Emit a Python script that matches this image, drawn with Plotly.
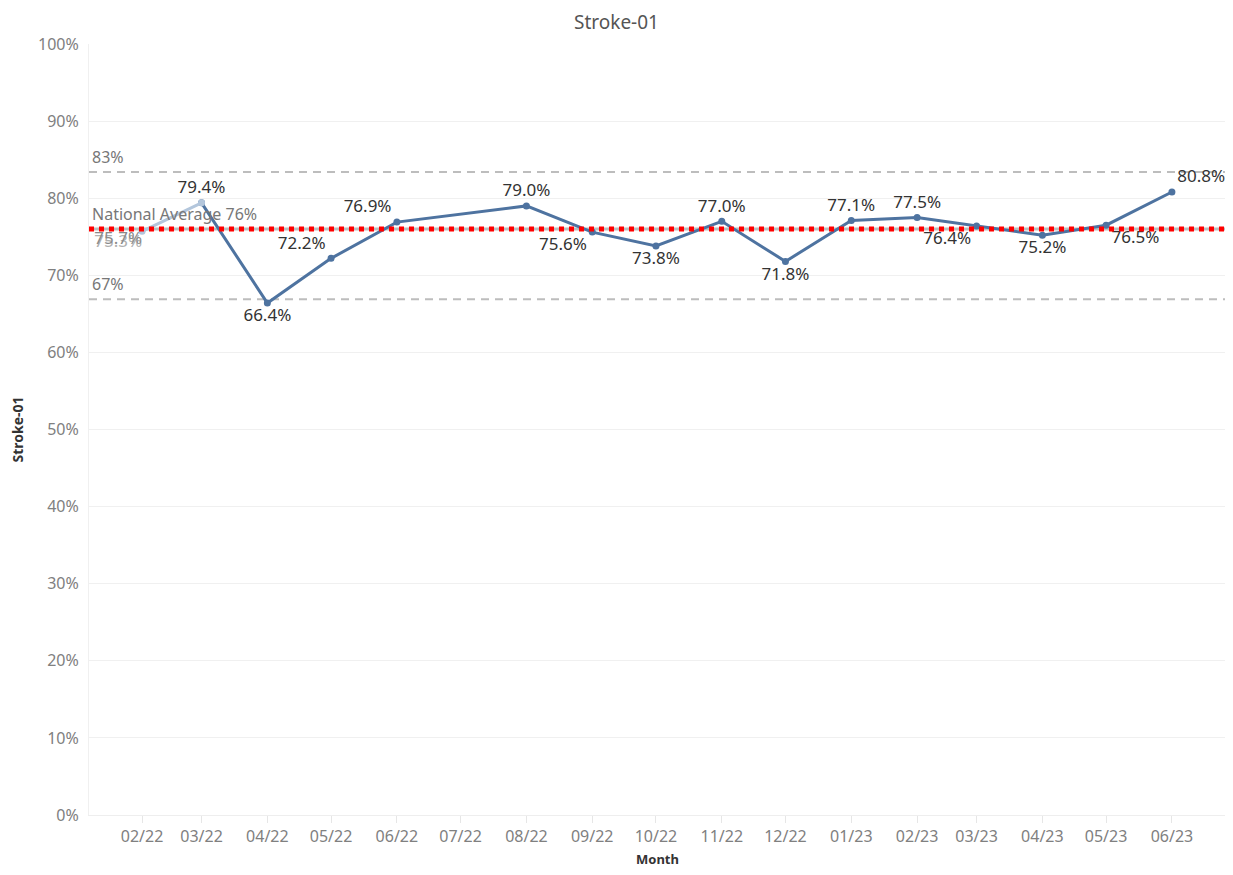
import plotly.graph_objects as go

# ---- data ----
months = ["2022-03-01", "2022-04-01", "2022-05-01", "2022-06-01", "2022-08-01",
          "2022-09-01", "2022-10-01", "2022-11-01", "2022-12-01", "2023-01-01",
          "2023-02-01", "2023-03-01", "2023-04-01", "2023-05-01", "2023-06-01"]
values = [79.4, 66.4, 72.2, 76.9, 79.0, 75.6, 73.8, 77.0, 71.8, 77.1,
          77.5, 76.4, 75.2, 76.5, 80.8]
label_pos = ["top center", "bottom center", "top left", "top left", "top center",
             "bottom left", "bottom center", "top center", "bottom center", "top center",
             "top center", "bottom left", "bottom center", "bottom right", "top right"]

faded_months = ["2022-02-01", "2022-03-01"]
faded_values = [75.7, 79.4]
faded_alt_month = ["2022-02-01"]
faded_alt_value = [75.3]

national_avg = 76
upper_ref = 83.4
lower_ref = 66.9
upper_label = "83%"
lower_label = "67%"
avg_label = "National Average 76%"

tick_vals = ["2022-02-01", "2022-03-01", "2022-04-01", "2022-05-01", "2022-06-01",
             "2022-07-01", "2022-08-01", "2022-09-01", "2022-10-01", "2022-11-01",
             "2022-12-01", "2023-01-01", "2023-02-01", "2023-03-01", "2023-04-01",
             "2023-05-01", "2023-06-01"]
tick_text = ["02/22", "03/22", "04/22", "05/22", "06/22", "07/22", "08/22", "09/22",
             "10/22", "11/22", "12/22", "01/23", "02/23", "03/23", "04/23", "05/23", "06/23"]
y_ticks = [0, 10, 20, 30, 40, 50, 60, 70, 80, 90, 100]
y_tick_text = ["0%", "10%", "20%", "30%", "40%", "50%", "60%", "70%", "80%", "90%", "100%"]

FONT = "Noto Sans"
LINE = "#4e73a0"
FADED = "#b3c6dc"
W, H = 1217, 859
ML, MR, MT, MB = 81, 0, 36, 52

fig = go.Figure()

# reference lines
fig.add_shape(type="line", xref="paper", x0=0, x1=1, y0=upper_ref, y1=upper_ref,
              line=dict(color="#bdbdbd", width=2, dash="8px,6px"), layer="below")
fig.add_shape(type="line", xref="paper", x0=0, x1=1, y0=lower_ref, y1=lower_ref,
              line=dict(color="#bdbdbd", width=2, dash="8px,6px"), layer="below")
fig.add_shape(type="line", xref="paper", x0=0, x1=1, y0=national_avg, y1=national_avg,
              line=dict(color="#bdbdbd", width=3), layer="below")

fig.add_trace(go.Scatter(
    x=faded_alt_month, y=faded_alt_value, mode="text",
    text=[f"{v:.1f}%" for v in faded_alt_value], textposition="bottom left",
    textfont=dict(family=FONT, size=17, color="#b0b0b0"), showlegend=False,
    hoverinfo="skip"))

fig.add_trace(go.Scatter(
    x=months, y=values, mode="lines+markers+text",
    line=dict(color=LINE, width=3), marker=dict(color=LINE, size=7),
    text=[f"{v:.1f}%" for v in values], textposition=label_pos,
    textfont=dict(family=FONT, size=17, color="#333333"), showlegend=False))

fig.add_trace(go.Scatter(
    x=faded_months, y=faded_values, mode="lines+markers",
    line=dict(color=FADED, width=3), marker=dict(color=FADED, size=7),
    showlegend=False))

fig.add_trace(go.Scatter(
    x=faded_months[:1], y=faded_values[:1], mode="text",
    text=[f"{faded_values[0]:.1f}%"], textposition="bottom left",
    textfont=dict(family=FONT, size=17, color="#8a8a8a"), showlegend=False,
    hoverinfo="skip"))

# national average dotted line on top
fig.add_shape(type="line", xref="paper", x0=0, x1=1, y0=national_avg, y1=national_avg,
              line=dict(color="#ff0000", width=5, dash="5px,5px"), layer="above")

for txt, yv in [(upper_label, upper_ref), (lower_label, lower_ref), (avg_label, national_avg)]:
    fig.add_annotation(xref="paper", x=0, y=yv, text=txt, showarrow=False,
                       xanchor="left", yanchor="bottom", xshift=1, yshift=2,
                       font=dict(family=FONT, size=16, color="#777777"))

# chart title (centred on the whole figure width)
plot_w = W - ML - MR
fig.add_annotation(xref="paper", yref="paper", x=(W / 2 - ML) / plot_w, y=1, yshift=MT - 14,
                   text="Stroke-01", showarrow=False, xanchor="center", yanchor="middle",
                   font=dict(family=FONT, size=19, color="#555555"))

# axis titles
fig.add_annotation(xref="paper", yref="paper", x=0, y=0.5, xshift=-72, text="<b>Stroke-01</b>",
                   textangle=-90, showarrow=False, xanchor="center", yanchor="middle",
                   font=dict(family=FONT, size=14, color="#333333"))
fig.add_annotation(xref="paper", yref="paper", x=0.5, y=0, yshift=-44, text="<b>Month</b>",
                   showarrow=False, xanchor="center", yanchor="middle",
                   font=dict(family=FONT, size=13, color="#333333"))

fig.update_layout(
    width=W, height=H,
    paper_bgcolor="white", plot_bgcolor="white",
    margin=dict(l=ML, r=MR, t=MT, b=MB, autoexpand=False),
    font=dict(family=FONT),
    xaxis=dict(
        type="date", range=["2022-01-07", "2023-06-26"],
        tickvals=tick_vals, ticktext=tick_text,
        tickfont=dict(family=FONT, size=16, color="#808080"),
        ticks="outside", ticklen=7, tickcolor="#e6e6e6", tickwidth=1,
        ticklabelstandoff=0, automargin=False,
        showgrid=False, showline=True, linecolor="#eeeeee", zeroline=False,
    ),
    yaxis=dict(
        range=[0, 100], tickvals=y_ticks, ticktext=y_tick_text,
        tickfont=dict(family=FONT, size=16, color="#808080"),
        showgrid=True, gridcolor="#f0f0f0", gridwidth=1,
        showline=True, linecolor="#f0f0f0", zeroline=False,
        ticks="", ticklabelstandoff=6, automargin=False,
    ),
)

fig.write_html("out.html")
